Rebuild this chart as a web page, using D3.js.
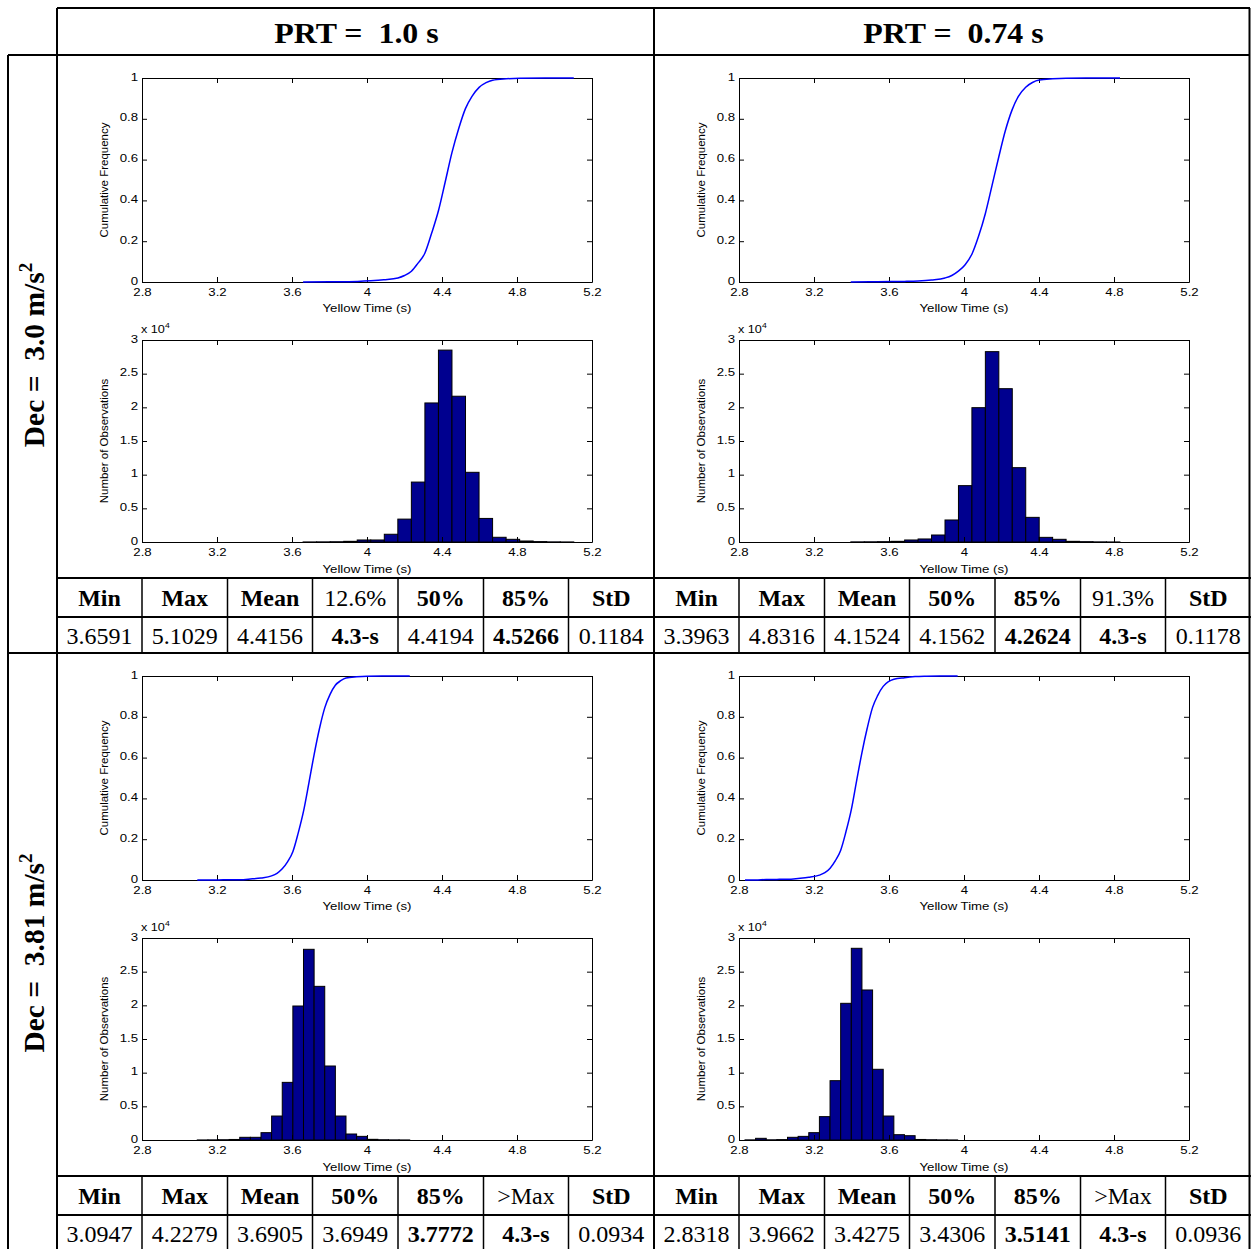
<!DOCTYPE html>
<html>
<head>
<meta charset="utf-8">
<script src="https://cdn.jsdelivr.net/npm/d3@7"></script>
<style>
  html, body { margin: 0; padding: 0; background: #fff; }
  svg { display: block; }
  text { white-space: pre; }
</style>
</head>
<body>
<script>
// ---- labels -------------------------------------------------------------
const prtLabels = ["PRT =  1.0 s", "PRT =  0.74 s"];
const decLabels = ["Dec =  3.0 m/s", "Dec =  3.81 m/s"];
const yellowTicks = [2.8, 3.2, 3.6, 4, 4.4, 4.8, 5.2];
const cdfTicks = [0, 0.2, 0.4, 0.6, 0.8, 1];
const countTicks = [0, 0.5, 1, 1.5, 2, 2.5, 3];   // in units of 10^4

// ---- summary tables -------------------------------------------------------
const headsA = ["Min", "Max", "Mean", "12.6%", "50%", "85%", "StD"];
const headBoldA = [1, 1, 1, 0, 1, 1, 1];
const valsA = ["3.6591", "5.1029", "4.4156", "4.3-s", "4.4194", "4.5266", "0.1184"];
const valBoldA = [0, 0, 0, 1, 0, 1, 0];

const headsB = ["Min", "Max", "Mean", "50%", "85%", "91.3%", "StD"];
const headBoldB = [1, 1, 1, 1, 1, 0, 1];
const valsB = ["3.3963", "4.8316", "4.1524", "4.1562", "4.2624", "4.3-s", "0.1178"];
const valBoldB = [0, 0, 0, 0, 1, 1, 0];

const headsC = ["Min", "Max", "Mean", "50%", "85%", ">Max", "StD"];
const headBoldC = [1, 1, 1, 1, 1, 0, 1];
const valsC = ["3.0947", "4.2279", "3.6905", "3.6949", "3.7772", "4.3-s", "0.0934"];
const valBoldC = [0, 0, 0, 0, 1, 1, 0];

const headsD = ["Min", "Max", "Mean", "50%", "85%", ">Max", "StD"];
const headBoldD = [1, 1, 1, 1, 1, 0, 1];
const valsD = ["2.8318", "3.9662", "3.4275", "3.4306", "3.5141", "4.3-s", "0.0936"];
const valBoldD = [0, 0, 0, 0, 1, 1, 0];

// ---- histogram counts: 20 equal bins between Min and Max --------------------
const countsA = [10, 20, 40, 100, 300, 300, 1150, 3400, 8900, 20650, 28500, 21650, 10350, 3500, 700, 400, 150, 60, 20, 10];
const countsB = [20, 30, 50, 100, 300, 450, 1040, 3270, 8370, 19950, 28270, 22770, 11040, 3660, 690, 400, 100, 50, 20, 10];
const countsC = [10, 20, 40, 80, 400, 400, 1090, 3560, 8560, 19900, 28320, 22820, 10990, 3560, 890, 540, 100, 40, 20, 10];
const countsD = [20, 250, 30, 60, 400, 540, 1090, 3470, 8810, 20300, 28470, 22280, 10500, 3560, 790, 640, 80, 40, 20, 10];

// ---- cumulative frequency curves: [yellow time, cumulative frequency] -----
const cdfA = [[3.659,0],[3.80,0.001],[3.95,0.003],[4.02,0.006],[4.09,0.011],[4.165,0.02],[4.20,0.032],[4.237,0.053],[4.27,0.09],[4.309,0.142],[4.345,0.24],[4.381,0.349],[4.417,0.49],[4.453,0.634],[4.49,0.755],[4.525,0.85],[4.56,0.91],[4.598,0.954],[4.635,0.977],[4.67,0.989],[4.742,0.996],[4.814,0.999],[4.95,1],[5.103,1]];
const cdfB = [[3.396,0],[3.50,0.001],[3.612,0.002],[3.683,0.003],[3.755,0.005],[3.827,0.01],[3.899,0.02],[3.935,0.032],[3.970,0.053],[4.006,0.085],[4.042,0.136],[4.078,0.225],[4.114,0.336],[4.15,0.475],[4.186,0.615],[4.22,0.74],[4.257,0.845],[4.29,0.91],[4.329,0.955],[4.365,0.978],[4.401,0.99],[4.473,0.996],[4.545,0.999],[4.65,1],[4.832,1]];
const cdfC = [[3.095,0],[3.208,0.0005],[3.321,0.0015],[3.378,0.005],[3.435,0.01],[3.491,0.02],[3.52,0.033],[3.548,0.055],[3.577,0.09],[3.605,0.14],[3.633,0.23],[3.661,0.335],[3.69,0.475],[3.718,0.615],[3.746,0.74],[3.775,0.845],[3.803,0.91],[3.831,0.955],[3.86,0.977],[3.888,0.99],[3.945,0.996],[4.001,0.999],[4.08,1],[4.228,1]];
const cdfD = [[2.832,0],[2.889,0.0002],[2.945,0.0027],[3.002,0.003],[3.059,0.0036],[3.115,0.0075],[3.172,0.013],[3.229,0.024],[3.258,0.036],[3.286,0.058],[3.314,0.095],[3.342,0.145],[3.37,0.235],[3.399,0.345],[3.427,0.485],[3.456,0.626],[3.484,0.745],[3.512,0.845],[3.54,0.905],[3.569,0.949],[3.597,0.972],[3.626,0.984],[3.683,0.992],[3.739,0.997],[3.80,0.999],[3.87,1],[3.966,1]];

const panels = [
  { row: 0, col: 0, counts: countsA, cdf: cdfA, heads: headsA, headBold: headBoldA, vals: valsA, valBold: valBoldA },
  { row: 0, col: 1, counts: countsB, cdf: cdfB, heads: headsB, headBold: headBoldB, vals: valsB, valBold: valBoldB },
  { row: 1, col: 0, counts: countsC, cdf: cdfC, heads: headsC, headBold: headBoldC, vals: valsC, valBold: valBoldC },
  { row: 1, col: 1, counts: countsD, cdf: cdfD, heads: headsD, headBold: headBoldD, vals: valsD, valBold: valBoldD }
];

// ---- layout ------------------------------------------------------------------
const W = 1251, H = 1249;
const colX = [57, 654];
const rowY = [55, 653];
const serif = "'Liberation Serif', 'Times New Roman', serif";
const sans = "'Liberation Sans', Arial, sans-serif";
const tableCols = [0, 85, 170.5, 255.5, 341, 426.5, 511.5, 597];
const plotFont = 11.5;     // axis text size
const wide = 1.15;         // horizontal widening of the plot lettering

const svg = d3.select("body").append("svg")
  .attr("width", W).attr("height", H)
  .attr("viewBox", `0 0 ${W} ${H}`);

// outer grid
const gridLines = [
  [57, 8, 1250, 8], [8, 55, 1250, 55], [8, 653, 1250, 653],
  [8, 55, 8, 1249], [57, 8, 57, 1249], [654, 8, 654, 1249], [1249.5, 8, 1249.5, 1249]
];
svg.append("g").selectAll("line").data(gridLines).join("line")
  .attr("x1", d => d[0]).attr("y1", d => d[1]).attr("x2", d => d[2]).attr("y2", d => d[3])
  .attr("stroke", "#000").attr("stroke-width", 2);

// column headers
svg.append("g").selectAll("text").data(prtLabels).join("text")
  .attr("transform", (d, i) => `translate(${(colX[i] + colX[i] + 597) / 2 + 1},43) scale(1.1,1)`)
  .attr("text-anchor", "middle")
  .attr("font-family", serif).attr("font-weight", "bold").attr("font-size", 29)
  .text(d => d);

// row headers (rotated)
decLabels.forEach((lab, i) => {
  const cy = rowY[i] + 300;
  const t = svg.append("text")
    .attr("transform", `translate(44,${cy}) rotate(-90)`)
    .attr("text-anchor", "middle")
    .attr("font-family", serif).attr("font-weight", "bold").attr("font-size", 29.5);
  t.append("tspan").text(lab);
  t.append("tspan").attr("font-size", 19).attr("dy", -12).text("2");
});

// horizontally widened plain text helper
function hText(g, x, y, str, anchor) {
  return g.append("text")
    .attr("transform", `translate(${x},${y}) scale(${wide},1)`)
    .attr("text-anchor", anchor || "middle")
    .attr("font-family", sans).attr("font-size", plotFont)
    .text(str);
}

function drawAxes(g, x, y, yTickVals, yFmt) {
  const [xb, xt] = [y.range()[0], y.range()[1]];
  const [yl, yr] = [x.range()[0], x.range()[1]];
  const style = sel => sel.attr("font-size", plotFont).attr("font-family", sans).attr("color", "#000")
    .call(s => s.selectAll("path,line").attr("stroke-width", 1));
  g.append("g").attr("transform", `translate(0,${xb})`)
    .call(d3.axisBottom(x).tickValues(yellowTicks).tickSize(-5).tickSizeOuter(0).tickPadding(6).tickFormat(d3.format("~g")))
    .call(style)
    .call(s => s.selectAll("text").attr("transform", `scale(${wide},1)`));
  g.append("g").attr("transform", `translate(0,${xt})`)
    .call(d3.axisTop(x).tickValues(yellowTicks).tickSize(-5).tickSizeOuter(0).tickFormat(() => ""))
    .call(style);
  g.append("g").attr("transform", `translate(${yl},0)`)
    .call(d3.axisLeft(y).tickValues(yTickVals).tickSize(-5).tickSizeOuter(0).tickPadding(0).tickFormat(yFmt))
    .call(style)
    .call(s => s.selectAll("text").attr("x", 0).attr("transform", `translate(-4,-1.5) scale(${wide},1)`));
  g.append("g").attr("transform", `translate(${yr},0)`)
    .call(d3.axisRight(y).tickValues(yTickVals).tickSize(-5).tickSizeOuter(0).tickFormat(() => ""))
    .call(style);
}

panels.forEach(p => {
  const x0 = colX[p.col], y0 = rowY[p.row];
  const g = svg.append("g");
  const L = x0 + 85, R = x0 + 535;
  const x = d3.scaleLinear().domain([2.8, 5.2]).range([L, R]);

  // cumulative frequency plot
  const yc = d3.scaleLinear().domain([0, 1]).range([y0 + 227, y0 + 23]);
  const gc = g.append("g");
  drawAxes(gc, x, yc, cdfTicks, d3.format("~g"));
  gc.append("path")
    .datum(p.cdf)
    .attr("fill", "none").attr("stroke", "#0000ff").attr("stroke-width", 1.5)
    .attr("d", d3.line().x(d => x(d[0])).y(d => yc(d[1])).curve(d3.curveMonotoneX));
  hText(gc, (L + R) / 2, y0 + 257, "Yellow Time (s)");
  gc.append("text").attr("transform", `translate(${L - 34},${(y0 + 125)}) rotate(-90)`)
    .attr("text-anchor", "middle").attr("font-family", sans).attr("font-size", plotFont).text("Cumulative Frequency");

  // histogram
  const hT = y0 + 285, hB = y0 + 487;
  const yh = d3.scaleLinear().domain([0, 3e4]).range([hB, hT]);
  const gh = g.append("g");
  const lo = +p.vals[0], hi = +p.vals[1];
  const bw = (hi - lo) / p.counts.length;
  gh.append("g").selectAll("rect").data(p.counts).join("rect")
    .attr("x", (d, i) => x(lo + i * bw))
    .attr("width", (d, i) => x(lo + (i + 1) * bw) - x(lo + i * bw))
    .attr("y", d => yh(d))
    .attr("height", d => yh(0) - yh(d))
    .attr("fill", "#00008f").attr("stroke", "#000").attr("stroke-width", 1);
  drawAxes(gh, x, yh, countTicks.map(t => t * 1e4), d => d3.format("~g")(d / 1e4));
  hText(gh, (L + R) / 2, hB + 31, "Yellow Time (s)");
  gh.append("text").attr("transform", `translate(${L - 34},${(hT + hB) / 2}) rotate(-90)`)
    .attr("text-anchor", "middle").attr("font-family", sans).attr("font-size", plotFont).text("Number of Observations");
  const ex = gh.append("text")
    .attr("transform", `translate(${L - 1},${hT - 7}) scale(${wide},1)`)
    .attr("font-family", sans).attr("font-size", 11);
  ex.append("tspan").text("x 10");
  ex.append("tspan").attr("font-size", 7.5).attr("dy", -5).text("4");

  // summary table
  const tT = y0 + 523, tM = y0 + 562, tB = y0 + 598;
  const gt = g.append("g");
  gt.selectAll("line.h").data([tT, tM]).join("line")
    .attr("x1", x0).attr("x2", x0 + 597).attr("y1", d => d).attr("y2", d => d)
    .attr("stroke", "#000").attr("stroke-width", 2);
  gt.selectAll("line.v").data(tableCols.slice(1, -1)).join("line")
    .attr("x1", d => x0 + d).attr("x2", d => x0 + d).attr("y1", tT).attr("y2", tB)
    .attr("stroke", "#000").attr("stroke-width", 1.5);
  const cx = i => x0 + (tableCols[i] + tableCols[i + 1]) / 2;
  gt.selectAll("text.h").data(p.heads).join("text")
    .attr("x", (d, i) => cx(i)).attr("y", tT + 28)
    .attr("text-anchor", "middle").attr("font-family", serif).attr("font-size", 24)
    .attr("font-weight", (d, i) => p.headBold[i] ? "bold" : "normal")
    .text(d => d);
  gt.selectAll("text.v").data(p.vals).join("text")
    .attr("x", (d, i) => cx(i)).attr("y", tM + 27)
    .attr("text-anchor", "middle").attr("font-family", serif).attr("font-size", 24)
    .attr("font-weight", (d, i) => p.valBold[i] ? "bold" : "normal")
    .text(d => d);
});
</script>
</body>
</html>
